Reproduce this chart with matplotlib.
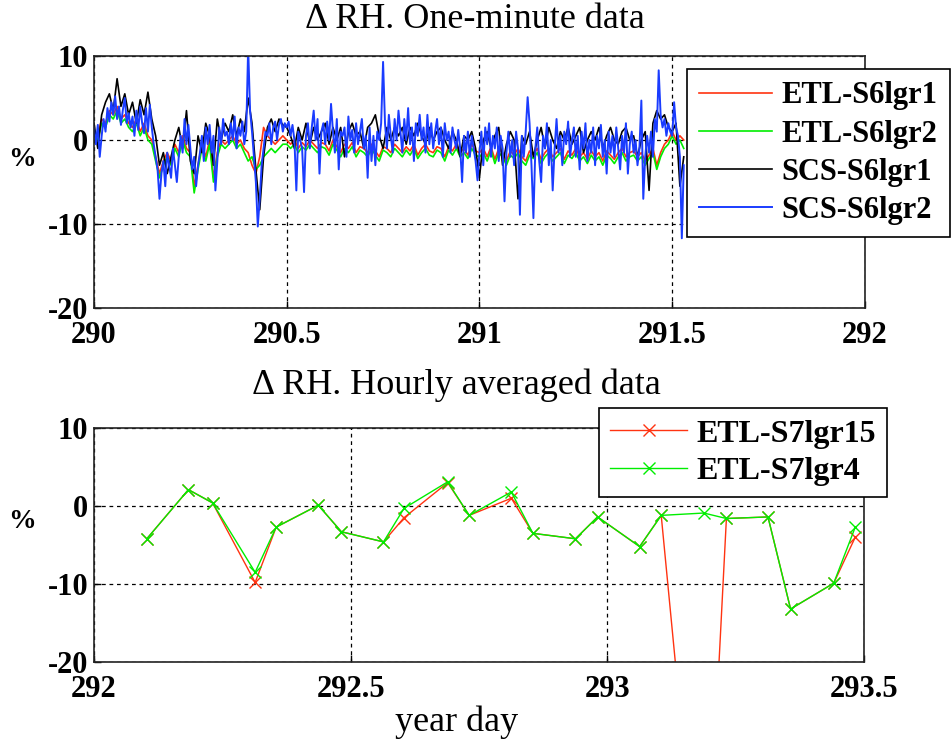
import matplotlib
matplotlib.use("Agg")
import matplotlib.pyplot as plt
import numpy as np

plt.rcParams['font.family'] = ['Liberation Serif', 'DejaVu Serif']

# ---- top panel: one-minute data ----
start_day = 290.0
# SCS-S6lgr2, every 0.005 day
scs2 = [1.5, -0.5, 1.8, -2.0, 0.5, 2.5, 1.0, 3.8, 2.2, 4.5,
        3.0, 5.2, 2.5, 4.0, 1.8, 3.6, 5.0, 2.0, 3.2, 1.5,
        2.8, 0.5, 3.5, 1.2, 4.0, 2.0, 0.8, 3.8, 1.0, 4.2,
        1.5, -0.5, -2.0, -3.5, -7.0, -4.0, -2.5, -5.5, -1.5, -3.0,
        -4.5, -1.0, -3.0, -5.0, -2.0, 0.5, -1.5, 2.5, -0.5, 1.8,
        -1.0, -3.5, -2.0, -5.5, -3.0, -1.5, 0.5, -2.5, 1.5, -0.5,
        1.8, -1.5, 0.5, -6.0, -2.5, 1.5, -0.5, 2.5, 0.5, 1.0,
        -0.5, 2.0, 0.0, 2.8, -1.0, 1.5, 0.5, 2.2, -0.5, 1.0,
        11.0, 3.5, 1.0, -2.0, -5.0, -10.3, -7.0, -3.0, -1.0, 1.0,
        0.5, 2.0, -0.5, 1.5, 2.2, 0.0, 1.8, 2.5, 1.0, 2.0,
        1.5, 2.2, 0.5, 1.8, 0.0, -6.0, 1.0, 0.0, -1.0, -6.2,
        0.5, 2.0, -1.0, 1.5, 3.5, 0.0, 2.5, -4.0, 1.0, 2.0,
        -0.5, 2.2, 0.0, 4.3, 1.0, -1.5, 2.5, -3.5, 1.0, 0.5,
        1.5, -2.0, 2.8, 0.0, 1.2, -1.5, 2.0, -0.5, 1.0, 2.5,
        -1.0, 0.5, -4.5, 1.5, -2.5, 0.5, -3.0, 1.0, 0.0, 2.0,
        9.3, 2.0, -1.0, 3.0, 0.5, -1.5, 2.5, 0.0, 3.5, 1.0,
        -1.5, 2.5, 0.0, 3.8, -0.5, 1.5, -2.5, 2.0, 0.5, 3.0,
        0.0, 1.5, -1.5, 3.0, -0.5, 2.0, -1.0, 1.0, 2.5, -0.5,
        1.5, -2.0, 2.0, 0.0, 1.0, -1.5, 1.5, 0.0, -1.0, 1.2,
        -1.0, -5.0, 0.5, -1.5, 1.0, -2.0, 0.5, -1.0, -2.5, -4.8,
        -1.5, 1.0, -3.0, 1.5, -0.5, 2.0, -2.0, 0.5, -1.0, 1.5,
        -2.5, 0.5, -1.0, -7.3, -1.5, 1.0, -2.0, 0.0, -3.0, 1.0,
        -1.0, -8.9, 0.5, -2.0, 1.0, 5.1, 2.0, -3.0, -9.3, -1.0,
        1.5, -2.5, -5.0, 0.5, -1.0, 2.0, -3.0, 0.0, -6.0, -1.0,
        2.5, -1.5, 0.5, -3.0, 1.0, -0.5, 2.2, -2.0, 0.0, 1.5,
        -2.0, 0.5, -3.5, 1.0, -1.0, 2.0, -2.5, 0.0, -1.5, 1.5,
        -3.0, 0.5, -1.0, 1.8, -2.0, 0.0, -4.0, 1.0, -1.5, 0.5,
        -2.0, 1.5, -1.0, -3.5, 0.5, -1.5, 2.0, -4.0, -0.5, 1.0,
        -1.5, 0.0, -3.0, -1.0, 4.7, -7.0, -2.0, 0.5, -1.5, 1.0,
        -2.0, 2.5, 1.0, 8.3, 3.0, 1.5, 2.5, 0.5, 2.0, 1.0,
        0.5, 4.5, 1.5, 0.5, -2.0, -11.7, -3.0]

# SCS-S6lgr1, every 0.01 day
scs1 = [2.0, -1.0, 3.0, 4.5, 5.5, 3.5, 7.3, 4.0, 5.5, 3.0,
        4.5, 2.0, 4.8, 3.0, 5.7, 2.5, 0.5, -3.0, -1.5, -4.0,
        -2.0, 0.0, 1.5, -1.0, 3.5, -2.5, -4.0, 0.5, -1.5, 2.0,
        0.5, -3.0, 2.5, 0.0, 2.0, 1.0, 3.0, 0.5, 2.5, 1.0,
        5.0, 2.0, -3.5, -8.3, -2.0, 1.5, 2.5, 1.0, 2.5, 1.8,
        1.5, 0.5, -1.0, 1.5, 0.0, 2.0, -0.5, 1.5, 0.0, 1.0,
        2.0, -0.5, 1.5, 0.0, 1.5, -2.0, 1.0, 2.0, 0.5, 1.0,
        -1.0, 1.5, 2.0, 3.0, 0.5, -1.0, 1.5, 0.0, 1.5, 0.5,
        1.5, -0.5, 1.5, 0.5, 2.0, 0.5, -0.5, 1.5, 0.0, 1.0,
        1.5, 0.0, -1.0, 1.0, 0.0, -2.0, 0.5, 0.0, 1.0, -1.0,
        -4.5, 0.0, 1.0, -1.0, 0.5, 1.5, -3.0, -0.5, 1.0, 0.0,
        -7.0, 0.5, -0.5, 1.0, -2.0, 0.0, 1.5, -1.0, 1.5, 0.0,
        -1.0, 1.0, 0.0, 1.5, -0.5, 0.5, 1.5, -1.5, 0.0, 1.0,
        0.0, 1.5, -1.0, 0.5, 1.5, 0.0, -0.5, 1.0, 1.5, 0.0,
        0.5, -2.0, 0.0, 1.0, -6.0, 2.0, 3.5, 2.5, 3.0, 1.5,
        1.0, 2.0, -5.5, -2.0]

# ETL-S6lgr1, every 0.01 day
etl1 = [1.0, 0.5, 2.5, 2.0, 3.5, 3.0, 4.0, 2.5, 3.0, 2.0,
        1.5, 2.5, 1.0, 2.0, 0.5, 0.0, -2.0, -4.0, -2.5, -1.5,
        -2.5, -0.5, -1.5, 0.5, -1.0, -1.5, -5.5, -3.0, -0.5, -2.0,
        0.0, -4.5, -1.5, 0.0, -0.5, 0.0, 0.5, -0.5, 0.0, -1.0,
        -1.5, -3.0, -4.0, -2.0, 1.5, 0.5, 0.0, -0.5, 0.0, 0.5,
        0.0, -0.5, 0.0, -1.0, -0.3, -0.8, 0.0, -0.5, -1.0, -0.3,
        -0.5, -1.3, 0.0, -0.8, -1.5, -0.5, -1.0, -0.3, -1.5, -0.8,
        -1.0, -1.5, -0.5, -1.3, -2.0, -0.8, -1.0, -1.5, -0.5, -1.0,
        -1.5, -0.8, -1.3, -0.5, -1.8, -1.0, -0.5, -1.3, -1.5, -0.8,
        -1.0, -2.0, -0.8, -1.3, -0.5, -1.5, -1.0, -1.8, -0.5, -1.3,
        -1.5, -1.0, -2.0, -0.8, -2.3, -1.0, -1.5, -2.5, -1.3, -1.8,
        -1.0, -2.0, -2.5, -1.3, -1.8, -1.0, -2.3, -1.5, -1.0, -2.0,
        -1.5, -1.0, -2.3, -1.3, -1.8, -1.0, -2.0, -1.5, -2.3, -1.3,
        -2.0, -1.5, -2.5, -1.3, -1.8, -2.3, -1.5, -1.0, -2.0, -1.5,
        -1.3, -2.0, -1.5, -2.5, -1.8, -1.0, -3.0, -1.5, -0.5, 0.0,
        1.0, 0.0, 0.5, 0.0]

# ETL-S6lgr2, every 0.01 day
etl2 = [0.5, 0.0, 2.0, 1.5, 3.0, 2.5, 3.5, 2.0, 2.5, 1.5,
        1.0, 2.0, 0.5, 1.5, 0.0, -0.5, -2.5, -4.5, -3.0, -2.0,
        -3.0, -1.0, -2.0, 0.0, -1.5, -2.0, -6.3, -3.5, -1.0, -2.5,
        -0.5, -5.0, -2.0, -0.5, -1.0, -0.5, 0.0, -1.0, -0.5, -1.5,
        -2.5, -2.0, -3.5, -3.0, -2.0, -1.5, -1.0, -1.5, -1.0, -0.5,
        -0.5, -1.0, -0.5, -1.5, -0.8, -1.2, -0.5, -1.0, -1.5, -0.8,
        -1.0, -1.8, -0.5, -1.2, -2.0, -1.0, -1.5, -0.8, -2.0, -1.2,
        -1.5, -2.0, -1.0, -1.8, -2.5, -1.2, -1.5, -2.0, -1.0, -1.5,
        -2.0, -1.2, -1.8, -1.0, -2.2, -1.5, -1.0, -1.8, -2.0, -1.2,
        -1.5, -2.5, -1.2, -1.8, -1.0, -2.0, -1.5, -2.2, -1.0, -1.8,
        -2.0, -1.5, -2.5, -1.2, -2.8, -1.5, -2.0, -3.0, -1.8, -2.2,
        -1.5, -2.5, -3.0, -1.8, -2.2, -1.5, -2.8, -2.0, -1.5, -2.5,
        -2.0, -1.5, -2.8, -1.8, -2.2, -1.5, -2.5, -2.0, -2.8, -1.8,
        -2.5, -2.0, -3.0, -1.8, -2.2, -2.8, -2.0, -1.5, -2.5, -2.0,
        -1.8, -2.5, -2.0, -3.0, -2.2, -1.5, -3.5, -2.0, -1.0, -0.5,
        0.5, -0.5, 0.0, -1.0]

# ---- bottom panel: hourly averaged data ----
hour_days = [292.103, 292.184, 292.231, 292.314, 292.355, 292.437, 292.482,
             292.564, 292.604, 292.689, 292.731, 292.813, 292.855, 292.938,
             292.981, 293.063, 293.105, 293.188, 293.232, 293.313, 293.357,
             293.441, 293.483]
etl_s7lgr15 = [-4.2, 2.1, 0.4, -9.8, -2.7, 0.1, -3.3, -4.6, -1.5, 3.0, -1.2,
               1.0, -3.5, -4.2, -1.4, -5.2, -1.2, -58.0, -1.6, -1.4, -13.2,
               -9.9, -4.0]
etl_s7lgr4 = [-4.2, 2.1, 0.4, -8.5, -2.7, 0.1, -3.3, -4.6, -0.3, 3.1, -1.2,
              1.8, -3.5, -4.2, -1.4, -5.2, -1.2, -0.9, -1.6, -1.4, -13.2,
              -9.9, -2.7]

RED = '#ff3311'
GREEN = '#00ee00'
BLUE = '#1a3cff'

fig = plt.figure(figsize=(9.51, 7.44), dpi=100)
ax1 = fig.add_axes([0.0988, 0.586, 0.8107, 0.3387])
ax2 = fig.add_axes([0.0988, 0.1102, 0.8097, 0.3145])

t_fine = start_day + 0.005 * np.arange(len(scs2))
t_coarse = start_day + 0.01 * np.arange(len(scs1))

ax1.plot(t_coarse[:len(etl1)], etl1, color=RED, lw=1.2, label='ETL-S6lgr1')
ax1.plot(t_coarse[:len(etl2)], etl2, color=GREEN, lw=1.2, label='ETL-S6lgr2')
ax1.plot(t_coarse, scs1, color='black', lw=1.2, label='SCS-S6lgr1')
ax1.plot(t_fine, scs2, color=BLUE, lw=1.4, label='SCS-S6lgr2')

ax2.plot(hour_days, etl_s7lgr15, color=RED, lw=1.0, marker='x', ms=8,
         mew=1.0, label='ETL-S7lgr15')
ax2.plot(hour_days, etl_s7lgr4, color=GREEN, lw=1.0, marker='x', ms=8,
         mew=1.0, label='ETL-S7lgr4')

for ax in (ax1, ax2):
    ax.set_ylim(-20, 10)
    ax.set_yticks([-20, -10, 0, 10])
    ax.set_yticklabels(['-20', '-10', '0', '10'], fontweight='bold')
    ax.grid(True, color='black', linestyle=(0, (3, 3)), lw=0.9)
    ax.tick_params(direction='in', length=5, width=1, labelsize=22)
    ax.tick_params(axis='y', pad=4)
    ax.tick_params(axis='x', pad=9)
    for s in ax.spines.values():
        s.set_linewidth(1.2)
        s.set_color('#222222')

ax1.set_xlim(290, 292)
ax1.set_xticks([290, 290.5, 291, 291.5, 292])
ax1.set_xticklabels(['290', '290.5', '291', '291.5', '292'], fontweight='bold')
ax2.set_xlim(292, 293.5)
ax2.set_xticks([292, 292.5, 293, 293.5])
ax2.set_xticklabels(['292', '292.5', '293', '293.5'], fontweight='bold')

leg1 = ax1.legend(loc='upper left', bbox_to_anchor=(0.769, 0.948),
                  borderaxespad=0, prop={'size': 22, 'weight': 'bold'},
                  handlelength=2.4, handletextpad=0.3, labelspacing=0.3,
                  borderpad=0.4, fancybox=False, framealpha=1,
                  edgecolor='black')
leg1.get_frame().set_linewidth(1.2)
leg2 = ax2.legend(loc='upper left', bbox_to_anchor=(0.656, 1.085),
                  borderaxespad=0, prop={'size': 23, 'weight': 'bold'},
                  handlelength=2.4, handletextpad=0.3, labelspacing=0.25,
                  borderpad=0.35, fancybox=False, framealpha=1,
                  edgecolor='black')
leg2.get_frame().set_linewidth(1.2)

fig.text(0.499, 1 - 20 / 744, u'\u0394 RH. One-minute data', ha='center',
         va='center', fontsize=26)
fig.text(0.48, 1 - 385 / 744, u'\u0394 RH. Hourly averaged data', ha='center',
         va='center', fontsize=26)
fig.text(0.48, 1 - 722 / 744, 'year day', ha='center', va='center',
         fontsize=26)
fig.text(22 / 951, 1 - 160 / 744, '%', ha='center', va='center',
         fontsize=20, fontweight='bold')
fig.text(22 / 951, 1 - 522 / 744, '%', ha='center', va='center',
         fontsize=20, fontweight='bold')

fig.savefig('out.png', dpi=100)
